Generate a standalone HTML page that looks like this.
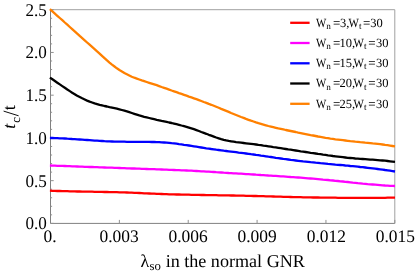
<!DOCTYPE html>
<html><head><meta charset="utf-8"><title>plot</title>
<style>
html,body{margin:0;padding:0;background:#fff;}
body{width:415px;height:274px;overflow:hidden;}
svg{display:block;will-change:transform;}
text{font-family:"Liberation Serif",serif;fill:#000;text-rendering:geometricPrecision;}
</style></head><body>
<svg width="415" height="274" viewBox="0 0 415 274">
<rect width="415" height="274" fill="#fff"/>

<g fill="none" stroke-width="1">
<path d="M50.5 9.7 H394.8 V223.4" stroke="#a0a0a0"/>
<path d="M50.5 9.7 V223.4 H394.8" stroke="#808080"/>
<path d="M119.36 223.4 v-3.5 M188.22 223.4 v-3.5 M257.08 223.4 v-3.5 M325.94 223.4 v-3.5 M394.80 223.4 v-3.5 M50.5 223.40 h3.2 M50.5 214.85 h1.6 M50.5 206.30 h1.6 M50.5 197.76 h1.6 M50.5 189.21 h1.6 M50.5 180.66 h3.2 M50.5 172.11 h1.6 M50.5 163.56 h1.6 M50.5 155.02 h1.6 M50.5 146.47 h1.6 M50.5 137.92 h3.2 M50.5 129.37 h1.6 M50.5 120.82 h1.6 M50.5 112.28 h1.6 M50.5 103.73 h1.6 M50.5 95.18 h3.2 M50.5 86.63 h1.6 M50.5 78.08 h1.6 M50.5 69.54 h1.6 M50.5 60.99 h1.6 M50.5 52.44 h3.2 M50.5 43.89 h1.6 M50.5 35.34 h1.6 M50.5 26.80 h1.6 M50.5 18.25 h1.6 M50.5 9.70 h3.2 " stroke="#909090"/>
</g>
<g fill="none" stroke-width="2.3" stroke-linejoin="round" stroke-linecap="butt">
<path d="M49.9 190.7 L52.4 190.8 L54.9 190.9 L57.3 191.0 L59.8 191.0 L62.3 191.1 L64.8 191.2 L67.3 191.2 L69.8 191.3 L72.2 191.4 L74.7 191.4 L77.2 191.5 L79.7 191.5 L82.2 191.6 L84.7 191.6 L87.1 191.7 L89.6 191.7 L92.1 191.7 L94.6 191.8 L97.1 191.8 L99.6 191.9 L102.0 191.9 L104.5 192.0 L107.0 192.0 L109.5 192.1 L112.0 192.1 L114.5 192.2 L116.9 192.2 L119.4 192.3 L121.9 192.4 L124.4 192.4 L126.9 192.5 L129.3 192.6 L131.8 192.7 L134.3 192.8 L136.8 192.9 L139.3 193.0 L141.8 193.1 L144.2 193.3 L146.7 193.4 L149.2 193.5 L151.7 193.6 L154.2 193.7 L156.7 193.8 L159.1 193.9 L161.6 194.0 L164.1 194.1 L166.6 194.2 L169.1 194.3 L171.6 194.3 L174.0 194.4 L176.5 194.5 L179.0 194.5 L181.5 194.6 L184.0 194.6 L186.5 194.7 L188.9 194.7 L191.4 194.8 L193.9 194.8 L196.4 194.9 L198.9 194.9 L201.3 195.0 L203.8 195.0 L206.3 195.1 L208.8 195.1 L211.3 195.1 L213.8 195.2 L216.2 195.2 L218.7 195.3 L221.2 195.3 L223.7 195.3 L226.2 195.4 L228.7 195.4 L231.1 195.5 L233.6 195.5 L236.1 195.6 L238.6 195.6 L241.1 195.7 L243.6 195.7 L246.0 195.8 L248.5 195.8 L251.0 195.9 L253.5 196.0 L256.0 196.0 L258.4 196.1 L260.9 196.2 L263.4 196.2 L265.9 196.3 L268.4 196.4 L270.9 196.4 L273.3 196.5 L275.8 196.6 L278.3 196.7 L280.8 196.7 L283.3 196.8 L285.8 196.9 L288.2 196.9 L290.7 197.0 L293.2 197.1 L295.7 197.1 L298.2 197.2 L300.7 197.2 L303.1 197.3 L305.6 197.3 L308.1 197.4 L310.6 197.4 L313.1 197.5 L315.6 197.5 L318.0 197.5 L320.5 197.6 L323.0 197.6 L325.5 197.6 L328.0 197.7 L330.4 197.7 L332.9 197.7 L335.4 197.7 L337.9 197.8 L340.4 197.8 L342.9 197.8 L345.3 197.8 L347.8 197.8 L350.3 197.8 L352.8 197.8 L355.3 197.8 L357.8 197.8 L360.2 197.8 L362.7 197.8 L365.2 197.8 L367.7 197.8 L370.2 197.8 L372.7 197.8 L375.1 197.8 L377.6 197.8 L380.1 197.8 L382.6 197.8 L385.1 197.8 L387.6 197.7 L390.0 197.7 L392.5 197.7 L395.0 197.7" stroke="#ff0000"/>
<path d="M49.9 165.5 L52.4 165.6 L54.9 165.7 L57.3 165.8 L59.8 165.9 L62.3 165.9 L64.8 166.0 L67.3 166.1 L69.8 166.2 L72.2 166.3 L74.7 166.4 L77.2 166.5 L79.7 166.6 L82.2 166.7 L84.7 166.8 L87.1 166.9 L89.6 167.0 L92.1 167.0 L94.6 167.1 L97.1 167.2 L99.6 167.3 L102.0 167.4 L104.5 167.5 L107.0 167.6 L109.5 167.7 L112.0 167.7 L114.5 167.8 L116.9 167.9 L119.4 168.0 L121.9 168.1 L124.4 168.2 L126.9 168.3 L129.3 168.4 L131.8 168.5 L134.3 168.5 L136.8 168.6 L139.3 168.7 L141.8 168.8 L144.2 168.9 L146.7 169.0 L149.2 169.1 L151.7 169.2 L154.2 169.2 L156.7 169.3 L159.1 169.4 L161.6 169.5 L164.1 169.6 L166.6 169.7 L169.1 169.8 L171.6 169.9 L174.0 170.0 L176.5 170.1 L179.0 170.2 L181.5 170.3 L184.0 170.4 L186.5 170.5 L188.9 170.6 L191.4 170.7 L193.9 170.9 L196.4 171.0 L198.9 171.1 L201.3 171.3 L203.8 171.4 L206.3 171.6 L208.8 171.7 L211.3 171.9 L213.8 172.0 L216.2 172.2 L218.7 172.3 L221.2 172.5 L223.7 172.7 L226.2 172.8 L228.7 173.0 L231.1 173.1 L233.6 173.3 L236.1 173.4 L238.6 173.6 L241.1 173.7 L243.6 173.9 L246.0 174.1 L248.5 174.2 L251.0 174.4 L253.5 174.5 L256.0 174.7 L258.4 174.8 L260.9 175.0 L263.4 175.1 L265.9 175.3 L268.4 175.5 L270.9 175.6 L273.3 175.8 L275.8 175.9 L278.3 176.1 L280.8 176.3 L283.3 176.4 L285.8 176.6 L288.2 176.8 L290.7 177.0 L293.2 177.1 L295.7 177.3 L298.2 177.5 L300.7 177.7 L303.1 177.9 L305.6 178.1 L308.1 178.3 L310.6 178.5 L313.1 178.7 L315.6 178.9 L318.0 179.1 L320.5 179.3 L323.0 179.6 L325.5 179.8 L328.0 180.0 L330.4 180.3 L332.9 180.5 L335.4 180.8 L337.9 181.0 L340.4 181.3 L342.9 181.5 L345.3 181.8 L347.8 182.0 L350.3 182.3 L352.8 182.6 L355.3 182.8 L357.8 183.1 L360.2 183.3 L362.7 183.6 L365.2 183.8 L367.7 184.1 L370.2 184.3 L372.7 184.5 L375.1 184.7 L377.6 184.9 L380.1 185.1 L382.6 185.3 L385.1 185.5 L387.6 185.6 L390.0 185.8 L392.5 185.9 L395.0 186.0" stroke="#ff00ff"/>
<path d="M49.9 138.0 L52.4 138.0 L54.9 138.1 L57.3 138.2 L59.8 138.3 L62.3 138.4 L64.8 138.5 L67.3 138.7 L69.8 138.8 L72.2 139.0 L74.7 139.1 L77.2 139.3 L79.7 139.5 L82.2 139.7 L84.7 139.9 L87.1 140.0 L89.6 140.2 L92.1 140.4 L94.6 140.6 L97.1 140.7 L99.6 140.9 L102.0 141.0 L104.5 141.2 L107.0 141.3 L109.5 141.4 L112.0 141.5 L114.5 141.6 L116.9 141.6 L119.4 141.7 L121.9 141.7 L124.4 141.7 L126.9 141.8 L129.3 141.8 L131.8 141.8 L134.3 141.8 L136.8 141.8 L139.3 141.8 L141.8 141.8 L144.2 141.8 L146.7 141.9 L149.2 141.9 L151.7 142.0 L154.2 142.0 L156.7 142.1 L159.1 142.2 L161.6 142.4 L164.1 142.5 L166.6 142.7 L169.1 142.9 L171.6 143.2 L174.0 143.4 L176.5 143.7 L179.0 144.1 L181.5 144.4 L184.0 144.8 L186.5 145.1 L188.9 145.5 L191.4 145.9 L193.9 146.3 L196.4 146.7 L198.9 147.1 L201.3 147.5 L203.8 147.9 L206.3 148.3 L208.8 148.6 L211.3 149.0 L213.8 149.3 L216.2 149.7 L218.7 150.0 L221.2 150.3 L223.7 150.7 L226.2 151.0 L228.7 151.3 L231.1 151.6 L233.6 151.9 L236.1 152.2 L238.6 152.6 L241.1 152.9 L243.6 153.2 L246.0 153.5 L248.5 153.8 L251.0 154.2 L253.5 154.5 L256.0 154.9 L258.4 155.2 L260.9 155.6 L263.4 155.9 L265.9 156.3 L268.4 156.7 L270.9 157.0 L273.3 157.4 L275.8 157.8 L278.3 158.1 L280.8 158.5 L283.3 158.9 L285.8 159.2 L288.2 159.5 L290.7 159.9 L293.2 160.2 L295.7 160.5 L298.2 160.8 L300.7 161.1 L303.1 161.4 L305.6 161.6 L308.1 161.9 L310.6 162.2 L313.1 162.4 L315.6 162.7 L318.0 162.9 L320.5 163.2 L323.0 163.4 L325.5 163.6 L328.0 163.9 L330.4 164.1 L332.9 164.3 L335.4 164.6 L337.9 164.8 L340.4 165.0 L342.9 165.2 L345.3 165.5 L347.8 165.7 L350.3 166.0 L352.8 166.2 L355.3 166.4 L357.8 166.7 L360.2 167.0 L362.7 167.2 L365.2 167.5 L367.7 167.8 L370.2 168.1 L372.7 168.4 L375.1 168.7 L377.6 169.0 L380.1 169.3 L382.6 169.6 L385.1 170.0 L387.6 170.3 L390.0 170.7 L392.5 171.1 L395.0 171.5" stroke="#0000ff"/>
<path d="M49.9 77.6 L52.4 79.3 L54.9 81.0 L57.3 82.7 L59.8 84.4 L62.3 86.1 L64.8 87.8 L67.3 89.5 L69.8 91.1 L72.2 92.7 L74.7 94.2 L77.2 95.7 L79.7 97.0 L82.2 98.3 L84.7 99.5 L87.1 100.6 L89.6 101.6 L92.1 102.5 L94.6 103.4 L97.1 104.1 L99.6 104.8 L102.0 105.4 L104.5 106.0 L107.0 106.5 L109.5 107.1 L112.0 107.6 L114.5 108.1 L116.9 108.7 L119.4 109.3 L121.9 110.0 L124.4 110.7 L126.9 111.4 L129.3 112.2 L131.8 113.0 L134.3 113.8 L136.8 114.6 L139.3 115.4 L141.8 116.1 L144.2 116.8 L146.7 117.4 L149.2 118.0 L151.7 118.6 L154.2 119.2 L156.7 119.8 L159.1 120.3 L161.6 120.9 L164.1 121.4 L166.6 121.9 L169.1 122.5 L171.6 123.0 L174.0 123.6 L176.5 124.2 L179.0 124.8 L181.5 125.5 L184.0 126.1 L186.5 126.8 L188.9 127.6 L191.4 128.4 L193.9 129.2 L196.4 130.1 L198.9 131.0 L201.3 132.0 L203.8 132.9 L206.3 133.8 L208.8 134.8 L211.3 135.7 L213.8 136.6 L216.2 137.5 L218.7 138.3 L221.2 139.1 L223.7 139.8 L226.2 140.4 L228.7 140.9 L231.1 141.3 L233.6 141.7 L236.1 142.1 L238.6 142.4 L241.1 142.7 L243.6 143.0 L246.0 143.3 L248.5 143.6 L251.0 143.9 L253.5 144.2 L256.0 144.5 L258.4 144.9 L260.9 145.2 L263.4 145.6 L265.9 145.9 L268.4 146.3 L270.9 146.7 L273.3 147.1 L275.8 147.4 L278.3 147.8 L280.8 148.2 L283.3 148.6 L285.8 149.0 L288.2 149.4 L290.7 149.7 L293.2 150.1 L295.7 150.5 L298.2 150.9 L300.7 151.3 L303.1 151.6 L305.6 152.0 L308.1 152.4 L310.6 152.8 L313.1 153.1 L315.6 153.5 L318.0 153.9 L320.5 154.2 L323.0 154.6 L325.5 154.9 L328.0 155.3 L330.4 155.6 L332.9 156.0 L335.4 156.3 L337.9 156.6 L340.4 156.9 L342.9 157.2 L345.3 157.5 L347.8 157.8 L350.3 158.0 L352.8 158.2 L355.3 158.5 L357.8 158.7 L360.2 158.9 L362.7 159.0 L365.2 159.2 L367.7 159.4 L370.2 159.6 L372.7 159.7 L375.1 159.9 L377.6 160.1 L380.1 160.3 L382.6 160.5 L385.1 160.7 L387.6 161.0 L390.0 161.3 L392.5 161.6 L395.0 161.9" stroke="#000000"/>
<path d="M49.9 9.2 L52.4 11.4 L54.9 13.6 L57.3 15.8 L59.8 18.0 L62.3 20.2 L64.8 22.5 L67.3 24.7 L69.8 27.0 L72.2 29.2 L74.7 31.4 L77.2 33.6 L79.7 35.9 L82.2 38.1 L84.7 40.3 L87.1 42.5 L89.6 44.7 L92.1 46.9 L94.6 49.1 L97.1 51.4 L99.6 53.6 L102.0 55.9 L104.5 58.2 L107.0 60.4 L109.5 62.6 L112.0 64.6 L114.5 66.5 L116.9 68.3 L119.4 70.0 L121.9 71.5 L124.4 73.0 L126.9 74.3 L129.3 75.5 L131.8 76.7 L134.3 77.7 L136.8 78.6 L139.3 79.5 L141.8 80.4 L144.2 81.2 L146.7 82.0 L149.2 82.8 L151.7 83.6 L154.2 84.4 L156.7 85.2 L159.1 86.1 L161.6 87.0 L164.1 87.8 L166.6 88.7 L169.1 89.6 L171.6 90.5 L174.0 91.3 L176.5 92.2 L179.0 93.1 L181.5 93.9 L184.0 94.8 L186.5 95.7 L188.9 96.6 L191.4 97.4 L193.9 98.3 L196.4 99.2 L198.9 100.1 L201.3 101.0 L203.8 102.0 L206.3 102.9 L208.8 103.9 L211.3 104.8 L213.8 105.8 L216.2 106.8 L218.7 107.8 L221.2 108.9 L223.7 109.9 L226.2 110.9 L228.7 111.9 L231.1 113.0 L233.6 114.0 L236.1 115.0 L238.6 116.0 L241.1 117.0 L243.6 117.9 L246.0 118.9 L248.5 119.8 L251.0 120.7 L253.5 121.5 L256.0 122.4 L258.4 123.2 L260.9 123.9 L263.4 124.6 L265.9 125.3 L268.4 126.0 L270.9 126.6 L273.3 127.2 L275.8 127.8 L278.3 128.4 L280.8 128.9 L283.3 129.4 L285.8 130.0 L288.2 130.5 L290.7 131.0 L293.2 131.5 L295.7 132.0 L298.2 132.6 L300.7 133.1 L303.1 133.6 L305.6 134.1 L308.1 134.6 L310.6 135.1 L313.1 135.5 L315.6 136.0 L318.0 136.5 L320.5 136.9 L323.0 137.3 L325.5 137.8 L328.0 138.2 L330.4 138.6 L332.9 138.9 L335.4 139.3 L337.9 139.6 L340.4 139.9 L342.9 140.2 L345.3 140.5 L347.8 140.8 L350.3 141.1 L352.8 141.3 L355.3 141.6 L357.8 141.8 L360.2 142.1 L362.7 142.3 L365.2 142.6 L367.7 142.8 L370.2 143.1 L372.7 143.4 L375.1 143.6 L377.6 143.9 L380.1 144.2 L382.6 144.5 L385.1 144.9 L387.6 145.2 L390.0 145.6 L392.5 146.0 L395.0 146.4" stroke="#ff8000"/>
</g>
<g font-size="17.9px">
<text transform="translate(46.9 229.30) scale(0.955 1)" text-anchor="end">0.0</text>
<text transform="translate(46.9 186.56) scale(0.955 1)" text-anchor="end">0.5</text>
<text transform="translate(46.9 143.82) scale(0.955 1)" text-anchor="end">1.0</text>
<text transform="translate(46.9 101.08) scale(0.955 1)" text-anchor="end">1.5</text>
<text transform="translate(46.9 58.34) scale(0.955 1)" text-anchor="end">2.0</text>
<text transform="translate(46.9 15.60) scale(0.955 1)" text-anchor="end">2.5</text>
<text transform="translate(50.00 241.9) scale(0.99 1)" text-anchor="middle" font-size="17.6px">0.</text>
<text transform="translate(119.10 241.9) scale(0.99 1)" text-anchor="middle" font-size="17.6px">0.003</text>
<text transform="translate(188.10 241.9) scale(0.99 1)" text-anchor="middle" font-size="17.6px">0.006</text>
<text transform="translate(257.10 241.9) scale(0.99 1)" text-anchor="middle" font-size="17.6px">0.009</text>
<text transform="translate(326.30 241.9) scale(0.99 1)" text-anchor="middle" font-size="17.6px">0.012</text>
<text transform="translate(395.30 241.9) scale(0.99 1)" text-anchor="middle" font-size="17.6px">0.015</text>
</g>
<text font-size="18px" x="140.5" y="267.3">λ<tspan font-size="12.8px" dx="0.3" dy="2.5">so</tspan><tspan dy="-2.5" dx="0.2" font-size="18.1px"> in the normal GNR</tspan></text>
<g transform="translate(15.0 128.1) rotate(-90)" font-size="18px"><text x="-0.7" y="0" font-style="italic">t</text><text x="5.4" y="4.6" font-size="12.8px">c</text><path d="M12.3 3.6 L17.0 -11.4" stroke="#000" stroke-width="0.95" fill="none"/><text x="17.9" y="0">t</text></g>
<path d="M290.2 22.8 H309.6" stroke="#ff0000" stroke-width="2.3" fill="none"/>
<g font-size="12.5px"><text transform="translate(316.0 26.5) scale(0.87 1)">W</text><text x="326.2" y="28.7" font-size="9.2px">n</text><text transform="translate(333.1 26.5) scale(1.04 1)">=</text><text x="340.0" y="26.5">3,</text><text transform="translate(348.5 26.5) scale(0.88 1)">W</text><text x="359.1" y="28.7" font-size="9.2px">t</text><text transform="translate(362.90 26.5) scale(1.04 1)">=</text><text x="370.3" y="26.5">30</text></g>
<path d="M290.2 43.0 H309.6" stroke="#ff00ff" stroke-width="2.3" fill="none"/>
<g font-size="12.5px"><text transform="translate(316.0 46.8) scale(0.87 1)">W</text><text x="326.2" y="49.0" font-size="9.2px">n</text><text transform="translate(333.1 46.8) scale(1.04 1)">=</text><text x="339.5" y="46.8">10,</text><text transform="translate(353.6 46.8) scale(0.88 1)">W</text><text x="364.1" y="49.0" font-size="9.2px">t</text><text transform="translate(368.30 46.8) scale(1.04 1)">=</text><text x="375.9" y="46.8">30</text></g>
<path d="M290.2 63.3 H309.6" stroke="#0000ff" stroke-width="2.3" fill="none"/>
<g font-size="12.5px"><text transform="translate(316.0 67.0) scale(0.87 1)">W</text><text x="326.2" y="69.2" font-size="9.2px">n</text><text transform="translate(333.1 67.0) scale(1.04 1)">=</text><text x="339.5" y="67.0">15,</text><text transform="translate(353.6 67.0) scale(0.88 1)">W</text><text x="364.1" y="69.2" font-size="9.2px">t</text><text transform="translate(368.30 67.0) scale(1.04 1)">=</text><text x="375.9" y="67.0">30</text></g>
<path d="M290.2 83.5 H309.6" stroke="#000000" stroke-width="2.3" fill="none"/>
<g font-size="12.5px"><text transform="translate(316.0 87.2) scale(0.87 1)">W</text><text x="326.2" y="89.5" font-size="9.2px">n</text><text transform="translate(333.1 87.2) scale(1.04 1)">=</text><text x="339.5" y="87.2">20,</text><text transform="translate(353.6 87.2) scale(0.88 1)">W</text><text x="364.1" y="89.5" font-size="9.2px">t</text><text transform="translate(368.30 87.2) scale(1.04 1)">=</text><text x="375.9" y="87.2">30</text></g>
<path d="M290.2 103.8 H309.6" stroke="#ff8000" stroke-width="2.3" fill="none"/>
<g font-size="12.5px"><text transform="translate(316.0 107.5) scale(0.87 1)">W</text><text x="326.2" y="109.7" font-size="9.2px">n</text><text transform="translate(333.1 107.5) scale(1.04 1)">=</text><text x="339.5" y="107.5">25,</text><text transform="translate(353.6 107.5) scale(0.88 1)">W</text><text x="364.1" y="109.7" font-size="9.2px">t</text><text transform="translate(368.30 107.5) scale(1.04 1)">=</text><text x="375.9" y="107.5">30</text></g>
</svg></body></html>
